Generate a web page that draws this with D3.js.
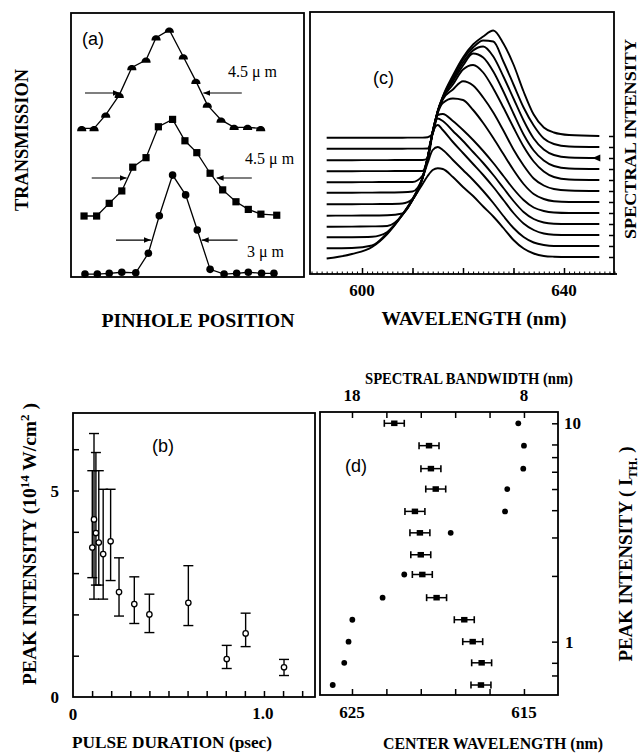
<!DOCTYPE html>
<html>
<head>
<meta charset="utf-8">
<script src="https://cdn.jsdelivr.net/npm/d3@7/dist/d3.min.js"></script>
<style>html,body{margin:0;padding:0;background:#fff;}svg{display:block;}</style>
</head>
<body>
<svg id="chart" width="641" height="756" xmlns="http://www.w3.org/2000/svg"></svg>
<script>
// ================= DATA =================
// Panel (a): transmission vs pinhole position (arbitrary units)
const scanTop = [[4.6,56.3],[9.9,56.3],[14.9,61.4],[20.7,68.9],[26.1,79.4],[32.2,82.2],[36.5,90.6],[42.2,93.6],[48.2,83.4],[53.6,74.2],[58.5,65.2],[64.4,59.5],[70.0,56.7],[75.8,56.7],[81.4,56.3]];
const scanMid = [[5.6,23.1],[11.0,23.1],[16.4,27.9],[21.8,32.6],[26.5,41.6],[32.2,45.2],[37.5,56.9],[43.6,59.7],[48.9,51.6],[54.0,47.1],[59.7,39.3],[65.1,33.0],[70.8,28.5],[76.1,25.6],[81.5,23.8],[88.3,23.4]];
const scanLow = [[6.0,1.1],[11.3,1.1],[16.4,1.4],[21.8,1.8],[27.8,1.6],[33.2,9.0],[37.9,23.2],[43.6,38.6],[49.2,31.1],[54.2,17.8],[59.7,2.9],[65.7,1.1],[71.1,1.4],[76.1,1.8],[81.8,1.4],[87.1,1.4]];
const scanLabels = ["4.5 \u03bc m", "4.5 \u03bc m", "3 \u03bc m"];
const fwhmLevel = [69.7, 37.5, 14.0];
const fwhmLeft = [[6.0,21.0],[8.9,23.9],[19.3,34.3]];
const fwhmRight = [[73.3,56.8],[77.6,62.5],[71.5,56.1]];
const labelPos = [[67.4,75.8],[74.7,42.8],[75.5,7.6]];

// Panel (c): stacked spectra
const wavelengthGrid = [593,598,602,605,608,610,612,613,614,615,616,618,620,622,624,626,628,630,632,634,636,638,641,647];
const spectrumOffsets = [17,28,39,50,61,72,83,94,105,116,127,138];
const spectra = [
 [-1.5,3,10,23,42,57,73,81,87,88.7,88,80,70,61,50.5,40.5,29,17,8.5,3.5,1,0.3,0,0],
 [-2.3,-2,0.5,13,31.5,47,68,83,96,99,96,86,76,66,55,43,30,18,9,3.5,1,0,0,0],
 [-2.3,-2.2,-1.8,3,20.5,35.5,57,77,102,110,105,93,82,71,60,48,35,22,11.5,5,1.5,0.3,0,0],
 [-2.7,-2.6,-2.4,-2,9,24,46,66,92,105.5,103,93,83,72,61,49,36,23,12,5,1.5,0.3,0,0],
 [-2.7,-2.6,-2.5,-2.3,-0.5,13,35,55,81,98,99,92,83,73,62,50,37,24,13,5.5,2,0.5,0,0],
 [-2.3,-2.2,-2.1,-2,-1.5,3,24,44,70,89,99,103.5,102,92,79,64,48,32,18,8,3,0.8,0,0],
 [-1.8,-1.7,-1.6,-1.5,-1.3,-0.5,13.5,33.5,59.5,79.5,91.5,101.5,109.8,105.5,93.5,78.5,60.5,41.5,25.5,12.5,5.5,2,0.5,0],
 [-2.2,-2.2,-2.1,-2,-2,-2,4.5,22.5,48.5,68.5,81.5,95.5,110.5,115,107.5,91.5,72.5,52.5,33.5,18.5,8.5,3,0.5,0],
 [-2.2,-2.2,-2.1,-2.1,-2,-2,-2,11.5,37.5,57.5,71,87.5,103.5,115.5,111.5,97.5,77.5,55.5,34.5,18.5,8.5,3,0.5,0],
 [-2.2,-2.2,-2.1,-2.1,-2,-2,-2,-0.5,25.5,46.5,60.5,78.5,95.5,107.5,111.5,101.5,81.5,59.5,37.5,19.5,8.5,3,0.5,0],
 [-1.8,-1.8,-1.8,-1.7,-1.7,-1.6,-1.6,-1.5,13.5,36.5,50,69.5,87.5,99.5,106.5,105.5,85.5,62.5,39.5,21.5,8.5,3,0.5,0],
 [-1.8,-1.8,-1.8,-1.7,-1.7,-1.6,-1.6,-1.2,2.5,24.5,39.5,60.5,78.5,91.5,99.5,105.5,92.5,71.5,44.5,21.5,8.5,3.5,1,0]
];
const markedSpectrum = 9;
const cTicksMajor = [600,610,620,630,640];
const cTickLabels = [600,640];

// Panel (b): peak intensity vs pulse duration
const pulseDuration = [0.101,0.110,0.120,0.135,0.158,0.197,0.241,0.321,0.400,0.604,0.805,0.904,1.105];
const peakIntensity = [3.62,4.30,3.97,3.74,3.46,3.77,2.54,2.25,2.00,2.28,0.92,1.54,0.72];
const peakHigh = [5.48,6.38,5.92,5.48,5.03,5.03,3.37,2.91,2.49,3.18,1.25,2.03,0.91];
const peakLow = [2.89,2.37,2.71,2.71,2.37,2.82,1.96,1.78,1.56,1.73,0.69,1.22,0.52];
const bYTicks = [1,2,3,4,5,6];
const bXTicks = [0.1,0.2,0.3,0.4,0.5,0.6,0.7,0.8,0.9,1.0,1.1,1.2];

// Panel (d): center wavelength & bandwidth vs peak intensity
const rowIntensity = [10.0,7.9,6.2,5.0,3.95,3.15,2.5,2.03,1.59,1.26,1.0,0.8,0.633];
const centerWavelength = [622.54,620.52,620.41,620.13,621.34,621.05,621.0,620.91,620.08,618.47,617.98,617.46,617.5];
const centerError = 0.58;
const bandwidth = [8.33,8.0,8.04,8.97,9.1,12.26,null,14.96,16.22,17.98,18.2,18.45,19.12];
const dWaveTicks = [625,623,621,619,617,615];
const dBwTicks = [18,16,14,12,10,8];
const dIntTicks = [10,8,7,6,5,4,3,2,1,0.8,0.7];

// ================= DRAWING =================
const svg = d3.select("#chart");
const SERIF = '"Liberation Serif","Times New Roman",serif';
const SANS = '"Liberation Sans",Arial,sans-serif';

svg.append("defs").append("marker")
  .attr("id","arr").attr("viewBox","0 0 10 10").attr("refX",10).attr("refY",5)
  .attr("markerWidth",7).attr("markerHeight",7).attr("markerUnits","userSpaceOnUse").attr("orient","auto")
  .append("path").attr("d","M0,1 L10,5 L0,9 Z").attr("fill","#000");

function frame(x0,y0,x1,y1){
  svg.append("rect").attr("x",x0).attr("y",y0).attr("width",x1-x0).attr("height",y1-y0)
    .attr("fill","none").attr("stroke","#000").attr("stroke-width",1.8);
}
function title(text,x,y,size,len,rot){
  const t = svg.append("text").attr("font-family",SERIF).attr("font-weight","bold")
    .attr("font-size",size).attr("text-anchor","middle").attr("fill","#000");
  if(rot) t.attr("transform",`translate(${x},${y}) rotate(${rot})`); else t.attr("x",x).attr("y",y);
  t.text(text);
  if(len) t.attr("textLength",len).attr("lengthAdjust","spacingAndGlyphs");
  return t;
}
function tickLabel(text,x,y,anchor){
  svg.append("text").attr("x",x).attr("y",y).attr("font-family",SERIF).attr("font-weight","bold")
    .attr("font-size",17).attr("text-anchor",anchor||"middle").text(text);
}
function panelLetter(text,x,y){
  svg.append("text").attr("x",x).attr("y",y).attr("font-family",SANS).attr("font-size",18).text(text);
}
function cleanAxis(g){ g.select(".domain").remove(); g.selectAll("text").remove(); g.selectAll("line").attr("stroke","#000").attr("stroke-width",1.5); }

// ---------- Panel (a) ----------
const ax = d3.scaleLinear().domain([0,100]).range([71,304]);
const ay = d3.scaleLinear().domain([0,100]).range([277,13]);
frame(71,13,304,277);
const lineA = d3.line().x(d=>ax(d[0])).y(d=>ay(d[1]));
[scanTop,scanMid,scanLow].forEach(s=>{
  svg.append("path").attr("d",lineA(s)).attr("fill","none").attr("stroke","#000").attr("stroke-width",1.3);
});
svg.append("g").selectAll("path").data(scanTop).join("path")
  .attr("transform",d=>`translate(${ax(d[0])},${ay(d[1])})`)
  .attr("d","M-4.6,2.8 C-4.6,-4.2 4.6,-4.2 4.6,2.8 Z").attr("fill","#000");
svg.append("g").selectAll("rect").data(scanMid).join("rect")
  .attr("x",d=>ax(d[0])-3.6).attr("y",d=>ay(d[1])-3.6).attr("width",7.2).attr("height",7.2).attr("fill","#000");
svg.append("g").selectAll("circle").data(scanLow).join("circle")
  .attr("cx",d=>ax(d[0])).attr("cy",d=>ay(d[1])).attr("r",3.8).attr("fill","#000");
fwhmLevel.forEach((lv,i)=>{
  [fwhmLeft[i],fwhmRight[i]].forEach(seg=>{
    svg.append("line").attr("x1",ax(seg[0])).attr("x2",ax(seg[1])).attr("y1",ay(lv)).attr("y2",ay(lv))
      .attr("stroke","#000").attr("stroke-width",1.2).attr("marker-end","url(#arr)");
  });
  svg.append("text").attr("x",ax(labelPos[i][0])).attr("y",ay(labelPos[i][1]))
    .attr("font-family",SERIF).attr("font-size",16).text(scanLabels[i]);
});
panelLetter("(a)",82,45);
title("TRANSMISSION",28,140,18,142,-90);
title("PINHOLE POSITION",198,327,19,193);

// ---------- Panel (c) ----------
const cx = d3.scaleLinear().domain([589.7,650.3]).range([310,616]);
const cy = d3.scaleLinear().domain([0,262]).range([274,12]);
frame(310,12,614,274);
svg.append("line").attr("x1",610).attr("x2",617).attr("y1",274).attr("y2",274).attr("stroke","#000").attr("stroke-width",1.8);
const minorC = d3.range(590,651,1);
const gcm = svg.append("g").attr("transform","translate(0,274)").call(d3.axisBottom(cx).tickValues(minorC).tickSize(-2.5));
cleanAxis(gcm); gcm.selectAll("line").attr("stroke-width",1);
const gcM = svg.append("g").attr("transform","translate(0,274)").call(d3.axisBottom(cx).tickValues(cTicksMajor).tickSize(-6));
cleanAxis(gcM);
const gcr = svg.append("g").attr("transform","translate(614,0)").call(d3.axisRight(cy).tickValues(spectrumOffsets).tickSize(-5));
cleanAxis(gcr);
spectra.forEach((s,i)=>{
  const ln = d3.line().x((d,j)=>cx(wavelengthGrid[j])).y(d=>cy(spectrumOffsets[i]+d)).curve(d3.curveMonotoneX);
  svg.append("path").attr("d",ln(s)).attr("fill","none").attr("stroke","#000").attr("stroke-width",1.9).attr("stroke-linejoin","round");
});
{
  const tx = cx(wavelengthGrid[wavelengthGrid.length-1]), ty = cy(spectrumOffsets[markedSpectrum]);
  svg.append("path").attr("d",`M${tx-7},${ty} L${tx+1},${ty-3.5} L${tx+1},${ty+3.5} Z`).attr("fill","#000");
}
cTickLabels.forEach(v=>tickLabel(String(v),cx(v),296));
panelLetter("(c)",373,84);
title("SPECTRAL INTENSITY",636,139,17,200,-90);
title("WAVELENGTH (nm)",474,325,19,185);

// ---------- Panel (b) ----------
const bx = d3.scaleLinear().domain([0,1.262]).range([73,314]);
const by = d3.scaleLinear().domain([0,6.877]).range([697,413]);
frame(73,413,315,697);
const gbx = svg.append("g").attr("transform","translate(0,697)").call(d3.axisBottom(bx).tickValues(bXTicks).tickSize(-6));
cleanAxis(gbx);
const gby = svg.append("g").attr("transform","translate(73,0)").call(d3.axisLeft(by).tickValues(bYTicks).tickSize(-6));
cleanAxis(gby);
const gb = svg.append("g");
pulseDuration.forEach((x,i)=>{
  const px = bx(x);
  gb.append("line").attr("x1",px).attr("x2",px).attr("y1",by(peakHigh[i])).attr("y2",by(peakLow[i])).attr("stroke","#000").attr("stroke-width",1.4);
  [peakHigh[i],peakLow[i]].forEach(v=>gb.append("line").attr("x1",px-5).attr("x2",px+5).attr("y1",by(v)).attr("y2",by(v)).attr("stroke","#000").attr("stroke-width",1.4));
});
gb.selectAll("circle").data(pulseDuration).join("circle")
  .attr("cx",d=>bx(d)).attr("cy",(d,i)=>by(peakIntensity[i])).attr("r",2.7)
  .attr("fill","#fff").attr("stroke","#000").attr("stroke-width",1.3);
tickLabel("0",bx(0),720); tickLabel("1.0",bx(1.0)-1,719);
tickLabel("0",59,by(0)+6,"end"); tickLabel("5",59,by(5)+6,"end");
panelLetter("(b)",152,452);
{
  const t = svg.append("text").attr("transform","translate(36,544) rotate(-90)")
    .attr("font-family",SERIF).attr("font-weight","bold").attr("font-size",18).attr("text-anchor","middle");
  t.append("tspan").text("PEAK INTENSITY (10");
  t.append("tspan").attr("dy",-7).attr("font-size",12).text("14");
  t.append("tspan").attr("dy",7).text(" W/cm");
  t.append("tspan").attr("dy",-7).attr("font-size",12).text("2");
  t.append("tspan").attr("dy",7).text("  )");
  t.attr("textLength",282).attr("lengthAdjust","spacingAndGlyphs");
}
title("PULSE DURATION (psec)",172,748,17,200);

// ---------- Panel (d) ----------
const dx = d3.scaleLinear().domain([626.86,613.02]).range([320,558]);
const bwx = d3.scaleLinear().domain([19.86,6.02]).range([320,558]);
const dy = d3.scaleLog().domain([0.5697,11.23]).range([695,412.3]);
frame(320,412,558,695);
const gdb = svg.append("g").attr("transform","translate(0,695)").call(d3.axisBottom(dx).tickValues(dWaveTicks).tickSize(-6));
cleanAxis(gdb);
const gdt = svg.append("g").attr("transform","translate(0,412)").call(d3.axisTop(bwx).tickValues(dBwTicks).tickSize(-6));
cleanAxis(gdt);
const gdr = svg.append("g").attr("transform","translate(558,0)").call(d3.axisRight(dy).tickValues(dIntTicks).tickSize(-6));
cleanAxis(gdr);
const gd = svg.append("g");
centerWavelength.forEach((c,i)=>{
  const y = dy(rowIntensity[i]);
  const x1 = dx(c+centerError), x2 = dx(c-centerError);
  gd.append("line").attr("x1",x1).attr("x2",x2).attr("y1",y).attr("y2",y).attr("stroke","#000").attr("stroke-width",1.5);
  [x1,x2].forEach(xx=>gd.append("line").attr("x1",xx).attr("x2",xx).attr("y1",y-3.5).attr("y2",y+3.5).attr("stroke","#000").attr("stroke-width",1.6));
  gd.append("rect").attr("x",dx(c)-3.2).attr("y",y-2.8).attr("width",6.4).attr("height",5.6).attr("fill","#000");
});
gd.selectAll("circle").data(bandwidth.map((b,i)=>[b,rowIntensity[i]]).filter(d=>d[0]!==null)).join("circle")
  .attr("cx",d=>bwx(d[0])).attr("cy",d=>dy(d[1])).attr("r",2.9).attr("fill","#000");
tickLabel("625",dx(625),718); tickLabel("615",dx(615),718);
tickLabel("18",bwx(18),401); tickLabel("8",bwx(8),401);
tickLabel("10",564,dy(10)+6,"start"); tickLabel("1",565,dy(1)+6,"start");
panelLetter("(d)",345,472);
title("SPECTRAL BANDWIDTH (nm)",469,384,16,208);
title("CENTER WAVELENGTH (nm)",493,749,16,220);
{
  const t = svg.append("text").attr("transform","translate(632,554) rotate(-90)")
    .attr("font-family",SERIF).attr("font-weight","bold").attr("font-size",18).attr("text-anchor","middle");
  t.append("tspan").text("PEAK INTENSITY ( I");
  t.append("tspan").attr("dy",5).attr("font-size",12).text("TH.");
  t.append("tspan").attr("dy",-5).text(" )");
  t.attr("textLength",215).attr("lengthAdjust","spacingAndGlyphs");
}
</script>
</body>
</html>
